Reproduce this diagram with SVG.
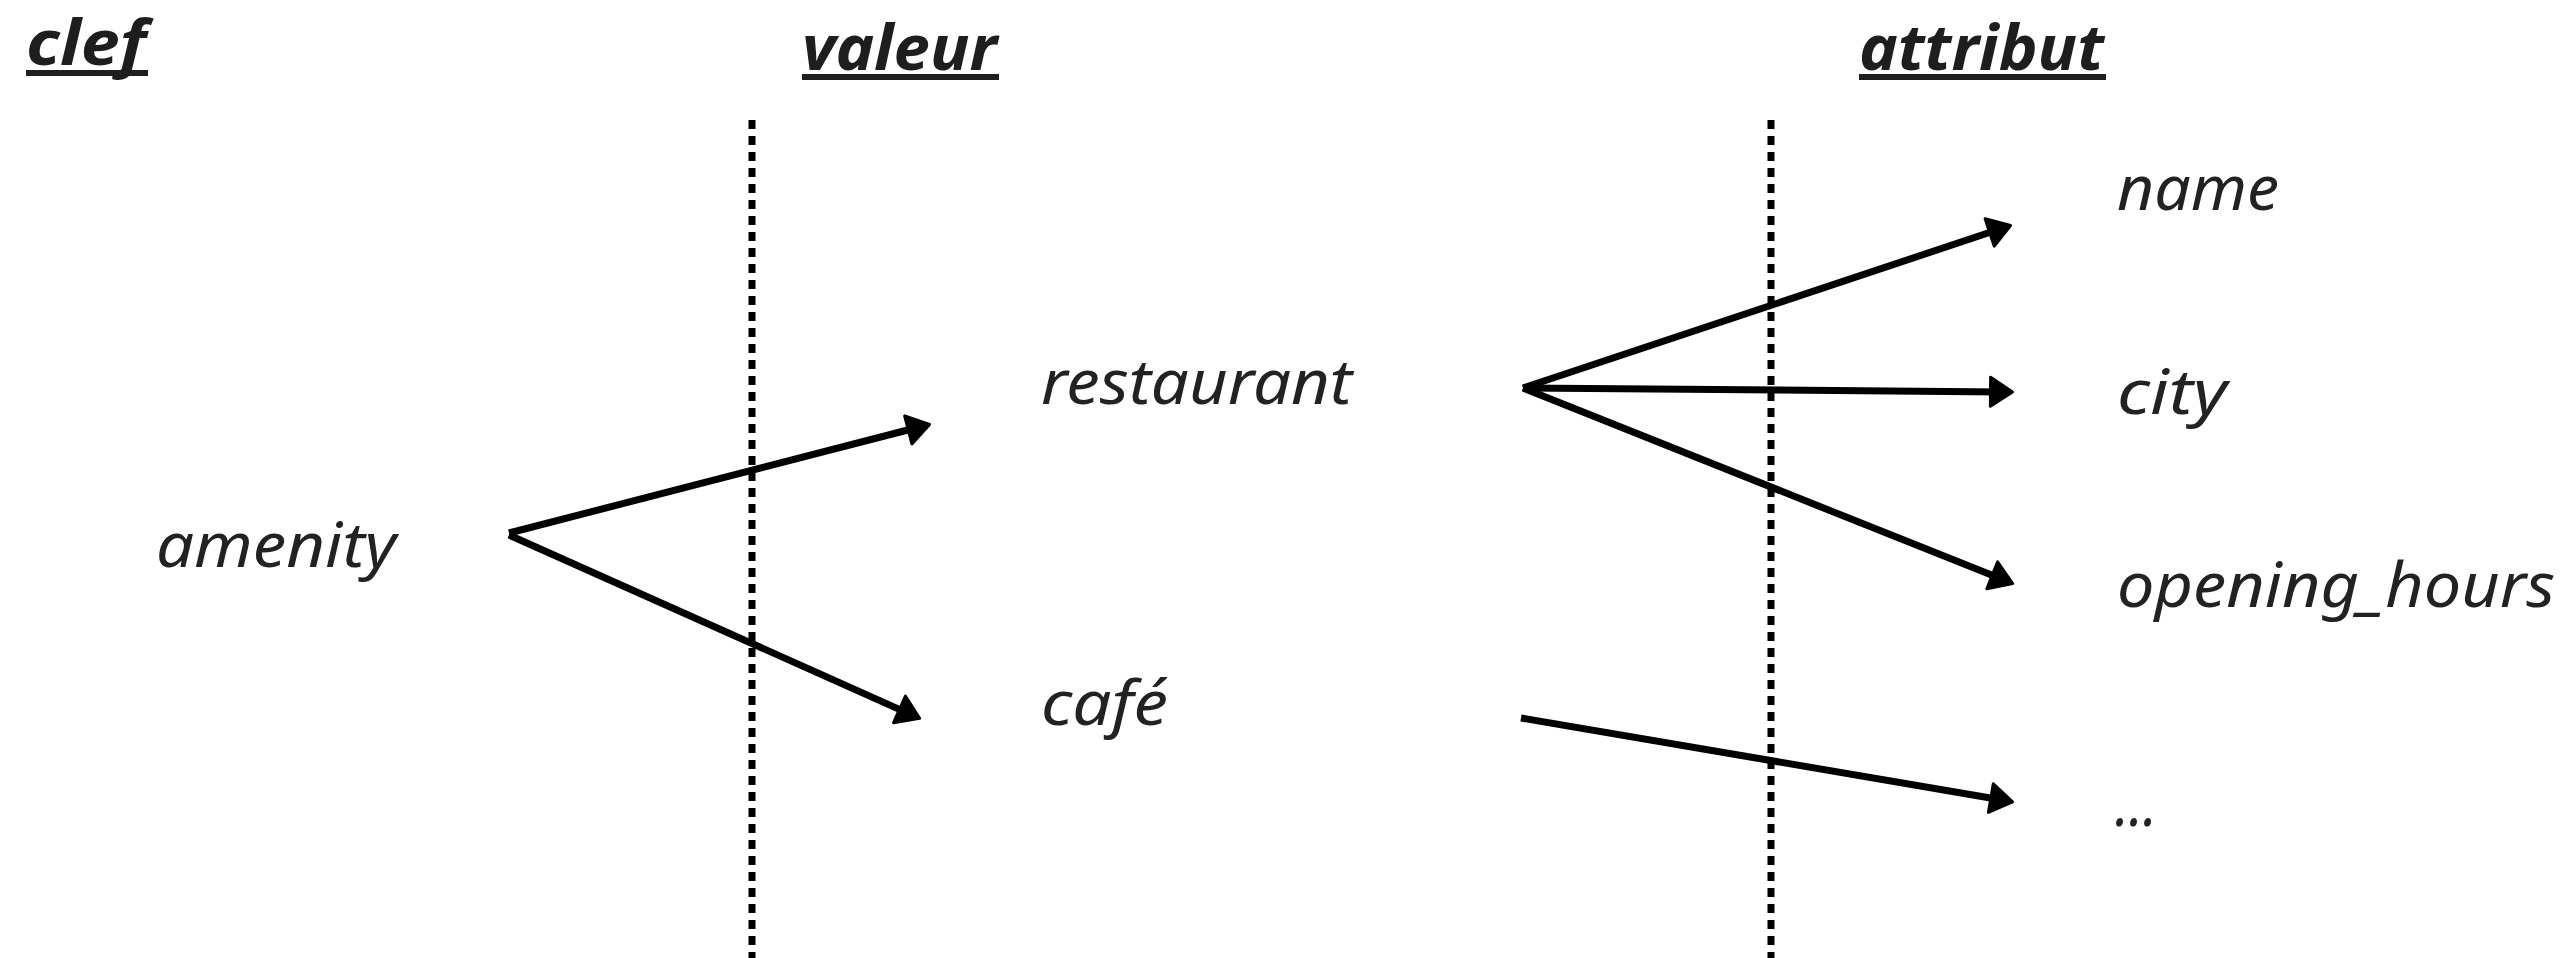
<svg xmlns="http://www.w3.org/2000/svg" width="2573" height="958" viewBox="0 0 2573 958">
<style>
.hdr{font-family:"Noto Sans","Liberation Sans",sans-serif;font-style:italic;font-weight:bold;font-size:62px;fill:#1e1e1e}
.lbl{font-family:"Noto Sans","Liberation Sans",sans-serif;font-style:italic;font-size:62px;fill:#222}
.ul{fill:#1e1e1e}
.sep{stroke:#000;stroke-width:7;stroke-dasharray:9 7;fill:none}
.arr{stroke:#000;stroke-width:7;fill:none;stroke-linecap:butt;marker-end:url(#ah)}
</style>
<defs>
<marker id="ah" markerUnits="userSpaceOnUse" markerWidth="40" markerHeight="40" viewBox="-5 -20 35 40" refX="13" refY="0" orient="auto">
<path d="M1.5,-14.5 L23.5,0 L1.5,14.5 Z" fill="#000" stroke="#000" stroke-width="3" stroke-linejoin="round"/>
</marker>
</defs>
<g id="headers">
<g id="h-clef"><text class="hdr" x="26" y="65" textLength="120" lengthAdjust="spacingAndGlyphs">clef</text><rect class="ul" x="26" y="70" width="122" height="6"/></g>
<g id="h-valeur"><text class="hdr" x="802" y="70" textLength="195" lengthAdjust="spacingAndGlyphs">valeur</text><rect class="ul" x="802" y="74" width="197" height="6"/></g>
<g id="h-attribut"><text class="hdr" x="1859" y="70" textLength="245" lengthAdjust="spacingAndGlyphs">attribut</text><rect class="ul" x="1859" y="74" width="247" height="6"/></g>
</g>
<g id="separators">
<line class="sep" x1="752" y1="120" x2="752" y2="958"/>
<line class="sep" x1="1771" y1="120" x2="1771" y2="958"/>
</g>
<g id="n-amenity"><text class="lbl" x="156" y="567" textLength="240" lengthAdjust="spacingAndGlyphs">amenity</text></g>
<g id="n-restaurant"><text class="lbl" x="1041" y="404" textLength="311" lengthAdjust="spacingAndGlyphs">restaurant</text></g>
<g id="n-cafe"><text class="lbl" x="1041" y="725" textLength="127" lengthAdjust="spacingAndGlyphs">café</text></g>
<g id="n-name"><text class="lbl" x="2117" y="210" textLength="162" lengthAdjust="spacingAndGlyphs">name</text></g>
<g id="n-city"><text class="lbl" x="2117" y="414" textLength="110" lengthAdjust="spacingAndGlyphs">city</text></g>
<g id="n-opening"><text class="lbl" x="2117" y="607" textLength="438" lengthAdjust="spacingAndGlyphs">opening_hours</text></g>
<g id="n-more"><text class="lbl" x="2115" y="826" textLength="42" lengthAdjust="spacingAndGlyphs">...</text></g>
<g id="connectors">
<path class="arr" d="M509,533 L919.4,427"/>
<path class="arr" d="M509,535 L910,714.1"/>
<path class="arr" d="M1523,388 L2000.6,228.8"/>
<path class="arr" d="M1523,388 L2002,391.9"/>
<path class="arr" d="M1523,388 L2002.9,579.6"/>
<path class="arr" d="M1521,718 L2002.2,800"/>
</g>
</svg>
